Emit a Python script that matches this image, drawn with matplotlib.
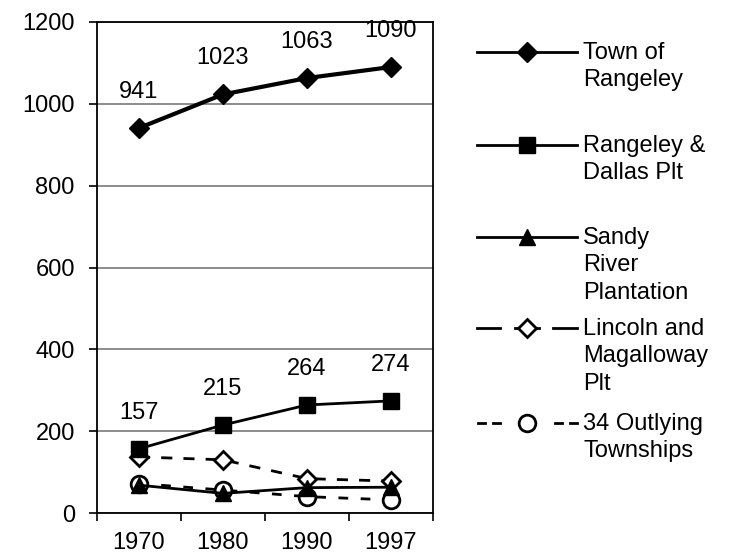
import matplotlib
matplotlib.use("Agg")
import matplotlib.pyplot as plt

plt.rcParams['font.family'] = ['Liberation Sans', 'DejaVu Sans']

years = ['1970', '1980', '1990', '1997']
town = [941, 1023, 1063, 1090]
rangeley_dallas = [157, 215, 264, 274]
sandy_river = [68, 48, 62, 63]
lincoln = [137, 130, 84, 78]
outlying = [72, 56, 40, 32]

labels = ['Town of\nRangeley', 'Rangeley &\nDallas Plt', 'Sandy\nRiver\nPlantation',
          'Lincoln and\nMagalloway\nPlt', '34 Outlying\nTownships']

fs = 17

fig = plt.figure(figsize=(7.33, 5.55), dpi=100)
ax = fig.add_axes([97 / 733, 42 / 555, 336 / 733, 491 / 555])

x = range(len(years))
ax.plot(x, town, color='black', lw=3, marker='D', ms=10, zorder=5)
ax.plot(x, rangeley_dallas, color='black', lw=2, marker='s', ms=12, zorder=5)
ax.plot(x, lincoln, color='black', lw=2, ls=(0, (4, 4)), marker='D', ms=9,
        mfc='white', mec='black', mew=2, zorder=4)
ax.plot(x, outlying, color='black', lw=2, ls=(0, (3.5, 4.5)), marker='o', ms=12,
        mfc='white', mec='black', mew=2, zorder=4)
ax.plot(x, sandy_river, color='black', lw=2, marker='^', ms=12, zorder=5)

# value labels above the two top series
for series in (town, rangeley_dallas):
    for xi, v in zip(x, series):
        ax.annotate(str(v), (xi, v), xytext=(0, 36), textcoords='offset pixels',
                    ha='center', va='center', fontsize=fs)

ax.set_xlim(-0.5, 3.5)
ax.set_ylim(0, 1200)
ax.set_yticks(range(0, 1201, 200))
ax.set_xticks(list(x))
ax.set_xticklabels(years)
ax.set_xticks([-0.5, 0.5, 1.5, 2.5, 3.5], minor=True)
ax.tick_params(axis='x', which='major', length=0, pad=14, labelsize=fs)
ax.tick_params(axis='x', which='minor', length=6, width=1.2, direction='out')
ax.tick_params(axis='y', length=6, width=1.2, direction='out', pad=10, labelsize=fs)
ax.yaxis.grid(True, color='#6e6e6e', lw=1.1)
ax.set_axisbelow(True)
for sp in ax.spines.values():
    sp.set_linewidth(1.3)

# legend drawn in pixel coordinates on an overlay
lg = fig.add_axes([0, 0, 1, 1])
lg.set_xlim(0, 733)
lg.set_ylim(555, 0)
lg.axis('off')
rows = [52, 145, 237, 328, 423]
x0, xm, x1 = 477, 527, 577
styles = [
    dict(marker='D', ms=10, mfc='black'),
    dict(marker='s', ms=12, mfc='black'),
    dict(marker='^', ms=12, mfc='black'),
    dict(marker='D', ms=9, mfc='white', mew=2),
    dict(marker='o', ms=12, mfc='white', mew=2),
]
for i, (y, lab, st) in enumerate(zip(rows, labels, styles)):
    if i < 3:
        lg.plot([x0, x1], [y, y], color='black', lw=2)
    elif i == 3:
        lg.plot([x0, 500], [y, y], color='black', lw=2)
        lg.plot([553, x1], [y, y], color='black', lw=2)
        lg.plot([515, 539], [y, y], color='black', lw=2)
    else:
        for a in (478, 493, 555, 570):
            lg.plot([a, a + 7], [y, y], color='black', lw=2)
    lg.plot([xm], [y], color='black', mec='black', **st)
    lg.text(583, y - 10, lab, ha='left', va='top', fontsize=fs, linespacing=1.32)

fig.savefig('out.png', dpi=100)
